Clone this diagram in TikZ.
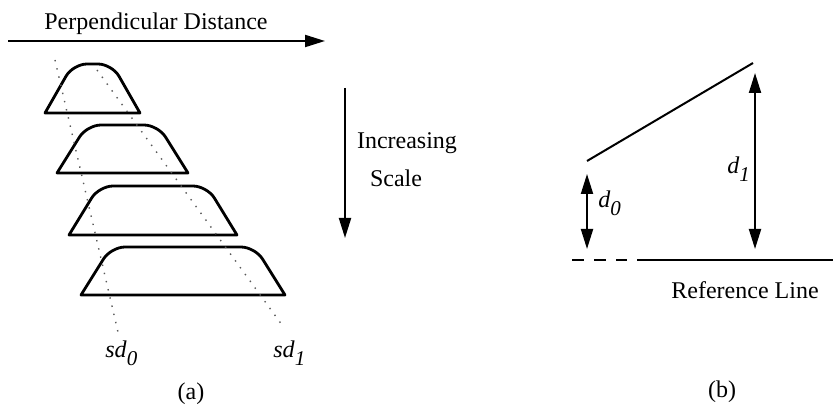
\documentclass[tikz,border=0pt]{standalone}
\usepackage{fontspec}
\setmainfont{Liberation Serif}
\usetikzlibrary{arrows.meta}
\newcommand\isublbl[2]{\textit{#1}\raisebox{-4pt}{\fontsize{10.5}{12}\selectfont\textit{#2}}}
\begin{document}
\begin{tikzpicture}[x=0.5pt,y=-0.5pt,
  font=\fontsize{12}{14}\selectfont,
  arr/.style={line width=1pt,-{Triangle[length=10pt,width=6pt]}},
  darr/.style={line width=1pt,{Triangle[length=10pt,width=6pt]}-{Triangle[length=10pt,width=6pt]}},
  trap/.style={line width=1.4pt,line join=round},
  dotline/.style={line width=0.7pt,black!65,dash pattern=on 0.7pt off 3.5pt},
  lbl/.style={inner sep=0pt}]
\useasboundingbox (0,0) rectangle (833,405);
% (a) top arrow
\coordinate (pa) at (8,41);
\coordinate (pb) at (325,41);
\draw[arr] (pa) -- (pb);
\node[lbl] (pd) at (156,24) {Perpendicular Distance};
% trapezoids
\draw[trap] (45,113) [rounded corners=7pt] -- (73,64) -- (112,64) [sharp corners] -- (140,113) -- cycle;
\draw[trap] (57,173) [rounded corners=7pt] -- (87,125) -- (158,125) [sharp corners] -- (188,173) -- cycle;
\draw[trap] (69,235) [rounded corners=7pt] -- (99,186) -- (207,186) [sharp corners] -- (237,235) -- cycle;
\draw[trap] (81,295) [rounded corners=7pt] -- (111,247) -- (255,247) [sharp corners] -- (285,295) -- cycle;
% dotted lines
\coordinate (s0a) at (55,60);
\coordinate (s0b) at (118,332);
\coordinate (s1a) at (97,70);
\coordinate (s1b) at (282,325);
\draw[dotline] (s0a) -- (s0b);
\draw[dotline] (s1a) -- (s1b);
\node[lbl,anchor=base west] (sd0) at (105,357) {\isublbl{sd}{0}};
\node[lbl,anchor=base west] (sd1) at (273,357) {\isublbl{sd}{1}};
\node[lbl] (la) at (191,394) {(a)};
% increasing scale arrow
\coordinate (va) at (345,88);
\coordinate (vb) at (345,238);
\draw[arr] (va) -- (vb);
\node[lbl] (inc) at (407,143) {Increasing};
\node[lbl] (sca) at (396,178) {Scale};
% (b)
\coordinate (l0) at (587,161);
\coordinate (l1) at (753,63);
\draw[line width=1pt] (l0) -- (l1);
\coordinate (d0t) at (587,174);
\coordinate (d0b) at (587,249);
\coordinate (d1t) at (755,73);
\coordinate (d1b) at (755,249);
\draw[darr] (d0b) -- (d0t);
\draw[darr] (d1b) -- (d1t);
\node[lbl,anchor=base west] (d0) at (598,208) {\isublbl{d}{0}};
\node[lbl,anchor=base west] (d1) at (727,174) {\isublbl{d}{1}};
\coordinate (r0) at (572,260);
\coordinate (r1) at (627,260);
\coordinate (r2) at (637,260);
\coordinate (r3) at (833,260);
\draw[line width=1pt,dash pattern=on 6pt off 5pt] (r0) -- (r1);
\draw[line width=1pt] (r2) -- (r3);
\node[lbl] (ref) at (745,290) {Reference Line};
\node[lbl] (lb) at (722,392) {(b)};
\end{tikzpicture}
\end{document}
